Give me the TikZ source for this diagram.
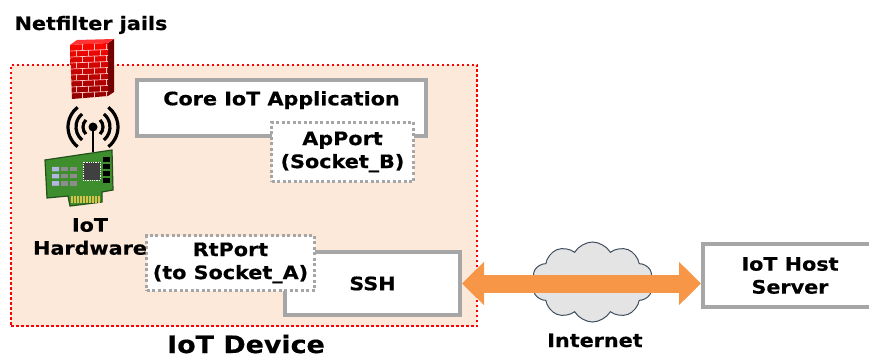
\documentclass[tikz,border=0pt]{standalone}
\usepackage{fontspec}
\setmainfont{DejaVu Sans}[FakeStretch=1.12,BoldFeatures={FakeBold=0.5}]
\usetikzlibrary{positioning}
\usetikzlibrary{arrows.meta,shapes}
\usetikzlibrary{calc}
\definecolor{boxgray}{HTML}{A6A6A6}
\definecolor{devfill}{HTML}{FDE9D9}
\definecolor{netorange}{HTML}{F79646}
\definecolor{cloudfill}{HTML}{E4E4E4}
\definecolor{cloudline}{HTML}{3F4F5F}
\definecolor{pcbgreen}{HTML}{3E8E2E}
\definecolor{pcbdark}{HTML}{24501C}
\definecolor{gold}{HTML}{D8C24A}
\tikzstyle{device}=[rectangle,draw=red,fill=devfill,line width=2.5pt,dash pattern=on 2.5pt off 2.5pt,inner sep=0pt]
\tikzstyle{appbox}=[rectangle,draw=boxgray,fill=white,line width=4pt,inner sep=0pt,align=center]
\tikzstyle{portbox}=[rectangle,draw=boxgray,fill=white,line width=3pt,dash pattern=on 3pt off 2.5pt,inner sep=0pt,align=center]
\tikzstyle{txt}=[font=\bfseries\fontsize{18.5}{23}\selectfont,align=center,inner sep=0pt]
\tikzstyle{bigtxt}=[font=\bfseries\fontsize{24}{28}\selectfont,inner sep=0pt]
\tikzstyle{net}=[cloud,cloud puffs=10,cloud puff arc=120,aspect=1.5,draw=cloudline,fill=cloudfill,line width=1pt,inner sep=0pt]
\tikzstyle{link}=[draw=netorange,line width=18pt,{Triangle[width=42pt,length=22pt]}-{Triangle[width=42pt,length=22pt]}]
\tikzstyle{brick}=[draw=red!25!white,line width=0.7pt]

\begin{document}
\begin{tikzpicture}[x=1pt,y=-1pt]
\useasboundingbox (0,0) rectangle (869,358);
\clip (0,0) rectangle (869,358);

    % The device frame first
    \node[device,minimum width=466pt,minimum height=261pt] (dev) at (244,195.5) {};
    \node[bigtxt,anchor=base] (devname) at (246,353) {IoT Device};

    % Application and its port
    \node[appbox,minimum width=289pt,minimum height=56pt] (core) at (281.5,108) {};
    \node[txt,below=13pt of core.north] (coretitle) {Core IoT Application};
    \node[portbox,txt,minimum width=142pt,minimum height=59pt] (apport) at (342.5,152) {ApPort\\(Socket\_B)};

    % SSH and its reverse port
    \node[appbox,txt,minimum width=175pt,minimum height=63pt] (ssh) at (372.5,283.5) {SSH};
    \node[portbox,txt,minimum width=168pt,minimum height=55pt] (rtport) at (230.5,263) {RtPort\\(to Socket\_A)};

    % Host on the far side
    \node[appbox,txt,minimum width=174pt,minimum height=63pt] (host) at (790,275.5) {IoT Host\\Server};

    % Internet cloud with the tunnel across it
    \node[net,minimum width=121pt,minimum height=80pt] (inet) at (592.5,282) {};
    \node[txt,anchor=base] (inetname) at (595,347) {Internet};
    \path[link] (ssh.east) -- (ssh.east -| host.west);

    % Firewall block
    \node[txt,anchor=base] (fwname) at (91,30) {Netfilter jails};
    \fill[red!45!black] (108,43) -- (114,39) -- (114,92) -- (108,96) -- cycle;
    \fill[red!80!white] (70,45) -- (77,40) -- (114,39) -- (108,43) -- cycle;
    \shade[top color=red!95!orange,bottom color=red!55!black] (70,45) -- (108,43) -- (108,96) -- (72,99) -- cycle;
    \foreach \y in {51,57,...,93}
        \draw[brick] (70.5,\y) -- (108,\y-1.5);
    \foreach \y [count=\i] in {45,51,...,93}
    {
        \pgfmathsetmacro\off{mod(\i,2)*6}
        \foreach \x in {76,88,100}
            \draw[brick] (\x+\off,\y-0.5) -- (\x+\off,\y+5.5);
    }

    % Antenna with its waves
    \draw[line width=2.5pt] (93,127) -- (93,152);
    \fill (93,127) circle (4.5);
    \foreach \r/\a in {10/45,17/50,25/52}
    {
        \draw[line width=3.2pt] (93,127) ++(\a:\r) arc (\a:-\a:\r);
        \draw[line width=3.2pt] (93,127) ++(180-\a:\r) arc (180-\a:180+\a:\r);
    }

    % Board of the hardware
    \filldraw[fill=pcbgreen,draw=pcbdark,line width=1.2pt] (45,160) -- (112,150) -- (113,190) -- (102,192) -- (102,202) -- (70,206) -- (68,196) -- (47,198) -- cycle;
    \foreach \x in {72,75,...,99}
        \draw[gold,line width=1.6pt] (\x,196) -- (\x,203);
    \foreach \x in {52,61,70}
        \foreach \y in {167,174,181}
            \fill[black!45] (\x,\y) rectangle +(7,4.5);
    \fill[gray!55!blue!40] (52,167) rectangle +(7,4.5) (52,174) rectangle +(7,4.5) (52,181) rectangle +(7,4.5);
    \filldraw[fill=black!75,draw=white,densely dotted,line width=0.8pt] (83,162) rectangle (100,180);
    \foreach \y in {157,164,171,178}
        \fill[black] (103,\y) rectangle +(7,5);

    \node[txt,anchor=north] (hwname) at (90,218) {IoT\\Hardware};

\end{tikzpicture}
\end{document}
